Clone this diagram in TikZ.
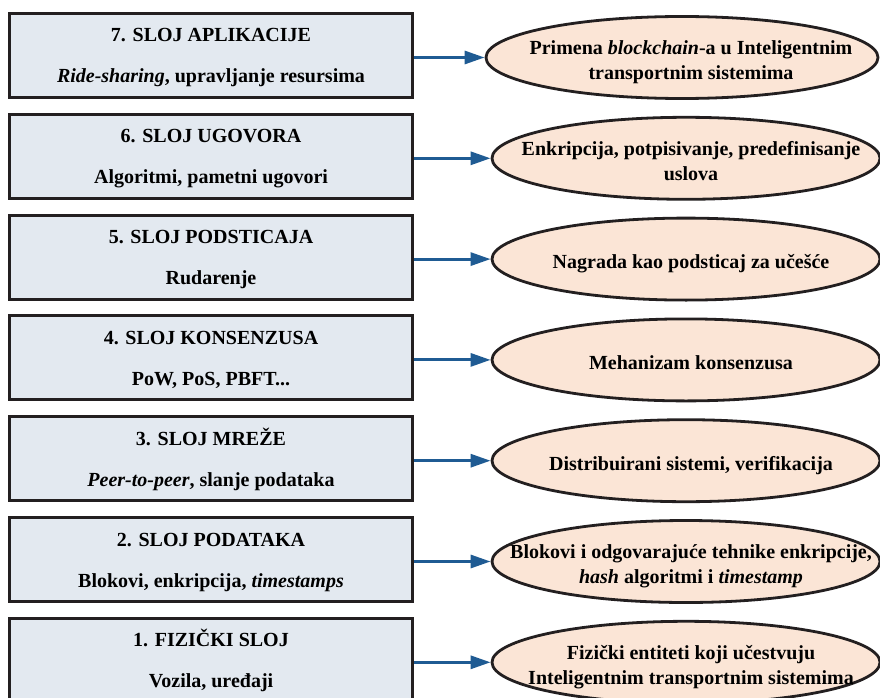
\documentclass[tikz,border=0pt]{standalone}
\usepackage{fontspec}
\setmainfont{Liberation Serif}
\usetikzlibrary{shapes.geometric,arrows.meta}
\definecolor{boxfill}{HTML}{E3E9F0}
\definecolor{ellfill}{HTML}{FBE5D6}
\definecolor{arrblue}{HTML}{1F5B93}
\definecolor{edgecol}{HTML}{231F20}
\newcommand{\twolines}[2]{\rule{0pt}{19pt}#1\\#2\rule[-5pt]{0pt}{5pt}}
\newcommand{\etwo}[2]{\rule{0pt}{24pt}#1\\#2\rule[-5pt]{0pt}{5pt}}
\newcommand{\eone}[1]{\rule{0pt}{24pt}#1\rule[-5pt]{0pt}{5pt}}
\tikzset{
  layer/.style={rectangle, draw=edgecol, line width=3pt, fill=boxfill,
    minimum width=403pt, minimum height=84pt, inner sep=0pt, align=center,
    font=\bfseries\fontsize{20}{41}\selectfont},
  ell/.style={ellipse, draw=edgecol, line width=2.8pt, fill=ellfill,
    minimum width=388pt, minimum height=82pt, inner sep=0pt},
  etxt/.style={align=center, inner sep=0pt, font=\bfseries\fontsize{20}{25}\selectfont},
  arr/.style={draw=arrblue, line width=3pt, -{Triangle[length=20pt,width=13pt]}}
}
\begin{document}
\begin{tikzpicture}[x=1pt,y=-1pt]
\useasboundingbox[fill=white] (0,0) rectangle (880,698);

% layer boxes
\node[layer] (b7) at (211,55.5) {\twolines{7. SLOJ APLIKACIJE}{\textit{Ride-sharing}, upravljanje resursima}};
\node[layer] (b6) at (211,156.3) {\twolines{6. SLOJ UGOVORA}{Algoritmi, pametni ugovori}};
\node[layer] (b5) at (211,257.1) {\twolines{5. SLOJ PODSTICAJA}{Rudarenje}};
\node[layer] (b4) at (211,357.9) {\twolines{4. SLOJ KONSENZUSA}{PoW, PoS, PBFT...}};
\node[layer] (b3) at (211,458.7) {\twolines{3. SLOJ MREŽE}{\textit{Peer-to-peer}, slanje podataka}};
\node[layer] (b2) at (211,559.5) {\twolines{2. SLOJ PODATAKA}{Blokovi, enkripcija, \textit{timestamps}}};
\node[layer] (b1) at (211,660.3) {\twolines{1. FIZIČKI SLOJ}{Vozila, uređaji}};

% ellipses
\node[ell, minimum width=392pt] (e7) at (682,57.5) {};
\node[ell] (e6) at (686,158.3) {};
\node[ell] (e5) at (686,259.1) {};
\node[ell] (e4) at (686,359.9) {};
\node[ell] (e3) at (686,460.7) {};
\node[ell] (e2) at (686,561.5) {};
\node[ell] (e1) at (686,662.3) {};

% ellipse texts
\node[etxt] (t7) at ([xshift=9pt]e7.center) {\etwo{Primena \textit{blockchain}-a u Inteligentnim}{transportnim sistemima}};
\node[etxt] (t6) at ([xshift=5pt]e6.center) {\etwo{Enkripcija, potpisivanje, predefinisanje}{uslova}};
\node[etxt] (t5) at ([xshift=5pt]e5.center) {\eone{Nagrada kao podsticaj za učešće}};
\node[etxt] (t4) at ([xshift=5pt]e4.center) {\eone{Mehanizam konsenzusa}};
\node[etxt] (t3) at ([xshift=5pt]e3.center) {\eone{Distribuirani sistemi, verifikacija}};
\node[etxt] (t2) at ([xshift=5pt]e2.center) {\etwo{Blokovi i odgovarajuće tehnike enkripcije,}{\textit{hash} algoritmi i \textit{timestamp}}};
\node[etxt] (t1) at ([xshift=5pt]e1.center) {\etwo{Fizički entiteti koji učestvuju}{Inteligentnim transportnim sistemima}};

% arrows
\foreach \k in {7,6,5,4,3,2,1}{
  \draw[arr] (b\k.east |- e\k.west) -- (e\k.west);
}
\end{tikzpicture}
\end{document}
